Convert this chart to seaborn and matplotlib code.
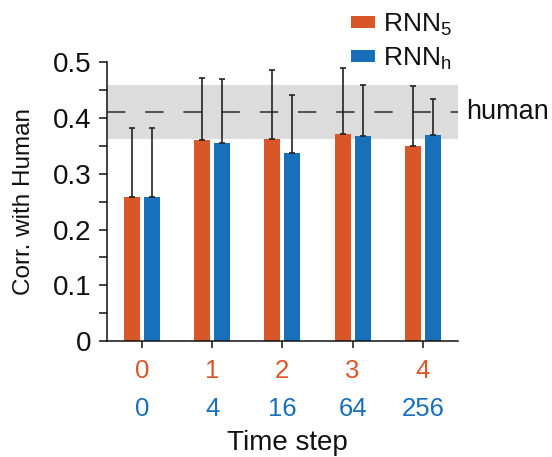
import matplotlib
matplotlib.use("Agg")
import matplotlib.pyplot as plt
from matplotlib.patches import Patch
import numpy as np
import pandas as pd
import seaborn as sns

# --- data -------------------------------------------------------------
steps = [0, 1, 2, 3, 4]
steps_rnn5 = ["0", "1", "2", "3", "4"]
steps_rnnh = ["0", "4", "16", "64", "256"]
series = ["RNN$_5$", "RNN$_h$"]
corr_rnn5 = [0.259, 0.360, 0.362, 0.371, 0.349]
corr_rnnh = [0.259, 0.355, 0.337, 0.368, 0.370]
err_rnn5 = [0.124, 0.112, 0.125, 0.119, 0.109]
err_rnnh = [0.124, 0.115, 0.105, 0.091, 0.065]
human_corr = 0.411
human_band = [0.362, 0.459]

ORANGE = "#D95628"
BLUE = "#1870BA"
INK = "#111111"

sns.set_theme(style="ticks")
plt.rcParams["font.family"] = ["Liberation Sans", "DejaVu Sans"]
plt.rcParams["mathtext.fontset"] = "custom"
plt.rcParams["mathtext.rm"] = "Liberation Sans"
plt.rcParams["mathtext.default"] = "regular"
plt.rcParams["text.color"] = INK
plt.rcParams["axes.labelcolor"] = INK
plt.rcParams["xtick.color"] = INK
plt.rcParams["ytick.color"] = INK

df = pd.DataFrame({
    "step": steps * 2,
    "corr": corr_rnn5 + corr_rnnh,
    "model": [series[0]] * len(steps) + [series[1]] * len(steps),
})

fig = plt.figure(figsize=(5.52, 4.57), dpi=100)
ax = fig.add_axes([0.1933, 0.2538, 0.8297 - 0.1933, 0.8637 - 0.2538])

# human reference band and line
ax.axhspan(human_band[0], human_band[1], color="#DCDCDC", lw=0, zorder=0)
ax.axhline(human_corr, color="#2b2b2b", lw=1.1, ls=(0, (12, 13)), zorder=1)

sns.barplot(data=df, x="step", y="corr", hue="model", order=steps,
            hue_order=series, palette=[ORANGE, BLUE], width=0.57, gap=0.2,
            errorbar=None, legend=False, ax=ax, zorder=2, saturation=1,
            linewidth=0, edgecolor="none")
ax.set_xlabel("")
ax.set_ylabel("")

# one-sided (upper) error bars on each bar
errs = [err_rnn5, err_rnnh]
for k, cont in enumerate(ax.containers[:2]):
    for grp, p in enumerate(cont.patches):
        xc = p.get_x() + p.get_width() / 2
        ax.errorbar(xc, p.get_height(), yerr=[[0], [errs[k][grp]]], fmt="none",
                    ecolor="#222222", elinewidth=1.2, capsize=2.5, capthick=1.2,
                    zorder=3, clip_on=False)

ax.set_xlim(-0.5, 4.5)
ax.set_ylim(0, 0.5)
ax.set_yticks(np.arange(0, 0.51, 0.05))
ax.set_yticklabels(["0" if i == 0 else (f"{i/20:.1f}" if i % 2 == 0 else "")
                    for i in range(11)])
ax.tick_params(axis="y", length=6, width=1.1, labelsize=20, pad=5, color=INK)
ax.tick_params(axis="x", length=5, width=1.1, color=INK)
ax.set_xticks(steps)
ax.set_xticklabels([])
for s in ["top", "right"]:
    ax.spines[s].set_visible(False)
for s in ["left", "bottom"]:
    ax.spines[s].set_linewidth(1.1)
    ax.spines[s].set_color(INK)

# two rows of step labels
trans = ax.get_xaxis_transform()
for x, a, b in zip(steps, steps_rnn5, steps_rnnh):
    ax.text(x, -0.108, a, transform=trans, ha="center", va="center",
            fontsize=18.5, color=ORANGE)
    ax.text(x, -0.244, b, transform=trans, ha="center", va="center",
            fontsize=18.5, color=BLUE)

ax.text(0.513, -0.392, "Time step", transform=ax.transAxes, ha="center",
        va="baseline", fontsize=20)
ax.text(-0.236, 0.5, "Corr. with Human", transform=ax.transAxes, ha="center",
        va="center", rotation=90, fontsize=17.5)
ax.annotate("human", xy=(1.0, human_corr), xycoords=ax.get_yaxis_transform(),
            xytext=(6, 0), textcoords="offset points", ha="left",
            va="center", fontsize=19.5, annotation_clip=False)

handles = [Patch(facecolor=ORANGE, edgecolor="none"),
           Patch(facecolor=BLUE, edgecolor="none")]
fig.legend(handles, series, loc="upper left", bbox_to_anchor=(0.636, 0.975),
           frameon=False, fontsize=19, handlelength=0.9, handleheight=0.3,
           handletextpad=0.3, labelspacing=0.3, borderpad=0, borderaxespad=0)

fig.savefig("out.png", dpi=100)
